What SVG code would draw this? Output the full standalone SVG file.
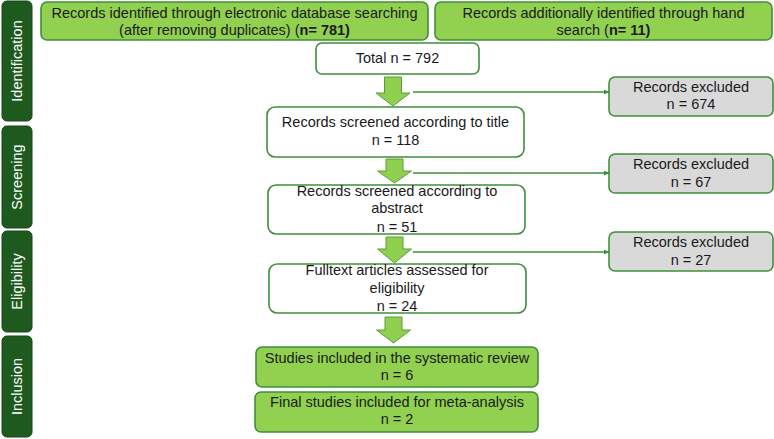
<svg xmlns="http://www.w3.org/2000/svg" width="774" height="439" viewBox="0 0 774 439">
<defs>
<style>
text{font-family:"Liberation Sans",Arial,sans-serif;font-size:14.5px;fill:#1a1a1a;text-anchor:middle}
.phase rect{fill:#1e5a1e;stroke:#16461a;stroke-width:1}
.phase text{fill:#ffffff;font-size:14.5px}
.green{fill:#92d050;stroke:#3f8f3a;stroke-width:1.6}
.white{fill:#ffffff;stroke:#3f8f3a;stroke-width:1.6}
.grey{fill:#d9d9d9;stroke:#3f8f3a;stroke-width:1.6}
.barrow{fill:#8fd14f;stroke:#5a9a3a;stroke-width:1}
.conn{stroke:#3f8f3a;stroke-width:1.3;fill:none;marker-end:url(#ah)}
.b{font-weight:bold}
</style>
<marker id="ah" viewBox="0 0 10 10" refX="10" refY="5" markerWidth="5" markerHeight="5" markerUnits="userSpaceOnUse" orient="auto">
<path d="M0,0 L10,5 L0,10 z" fill="#3f8f3a"/>
</marker>
</defs>
<rect width="774" height="439" fill="#ffffff"/>

<g id="phase-identification" class="phase">
<rect x="2" y="1" width="30" height="120" rx="5"/>
<text transform="translate(22,61) rotate(-90)">Identification</text>
</g>
<g id="phase-screening" class="phase">
<rect x="2" y="126" width="30" height="102" rx="5"/>
<text transform="translate(22,177) rotate(-90)">Screening</text>
</g>
<g id="phase-eligibility" class="phase">
<rect x="2" y="231" width="30" height="101" rx="5"/>
<text transform="translate(22,281.5) rotate(-90)">Eligibility</text>
</g>
<g id="phase-inclusion" class="phase">
<rect x="2" y="336" width="30" height="101" rx="5"/>
<text transform="translate(22,386.5) rotate(-90)">Inclusion</text>
</g>

<g id="db-search">
<rect class="green" x="41" y="2" width="387" height="38" rx="6"/>
<text x="234.5" y="18">Records identified through electronic database searching</text>
<text x="234.5" y="35">(after removing duplicates) (<tspan class="b">n= 781)</tspan></text>
</g>
<g id="hand-search">
<rect class="green" x="435" y="2" width="337" height="38" rx="6"/>
<text x="603.5" y="18">Records additionally identified through hand</text>
<text x="603.5" y="35">search (<tspan class="b">n= 11)</tspan></text>
</g>
<g id="total">
<rect class="white" x="316" y="43" width="163" height="31" rx="6"/>
<text x="397.5" y="63">Total n = 792</text>
</g>
<g id="screened-title">
<rect class="white" x="267" y="107" width="257" height="50" rx="8"/>
<text x="395.5" y="127">Records screened according to title</text>
<text x="395.5" y="145">n = 118</text>
</g>
<g id="screened-abstract">
<rect class="white" x="268" y="185" width="257" height="49" rx="8"/>
<text x="397" y="196">Records screened according to</text>
<text x="397" y="213">abstract</text>
<text x="397" y="232">n = 51</text>
</g>
<g id="fulltext">
<rect class="white" x="269" y="264" width="257" height="49" rx="8"/>
<text x="397" y="275">Fulltext articles assessed for</text>
<text x="397" y="293">eligibility</text>
<text x="397" y="311">n = 24</text>
</g>
<g id="studies-included">
<rect class="green" x="256" y="347" width="282" height="40" rx="6"/>
<text x="397" y="363">Studies included in the systematic review</text>
<text x="397" y="380">n = 6</text>
</g>
<g id="meta-analysis">
<rect class="green" x="255" y="392" width="283" height="40" rx="6"/>
<text x="397" y="407">Final studies included for meta-analysis</text>
<text x="397" y="424">n = 2</text>
</g>
<g id="excluded-1">
<rect class="grey" x="609" y="77" width="164" height="39" rx="6"/>
<text x="691" y="92">Records excluded</text>
<text x="691" y="109">n = 674</text>
</g>
<g id="excluded-2">
<rect class="grey" x="609" y="154" width="164" height="39" rx="6"/>
<text x="691" y="169">Records excluded</text>
<text x="691" y="187">n = 67</text>
</g>
<g id="excluded-3">
<rect class="grey" x="609" y="232" width="164" height="39" rx="6"/>
<text x="691" y="247">Records excluded</text>
<text x="691" y="265">n = 27</text>
</g>

<g id="connectors">
<polygon class="barrow" points="384.5,77 401.5,77 401.5,93 410,93 393,106 376,93 384.5,93"/>
<polygon class="barrow" points="386,159 403,159 403,171 411.5,171 394.5,183 377.5,171 386,171"/>
<polygon class="barrow" points="386,237 403,237 403,249 411.5,249 394.5,263 377.5,249 386,249"/>
<polygon class="barrow" points="385,317 402,317 402,330 410.5,330 393.5,343 376.5,330 385,330"/>
<line class="conn" x1="413" y1="92" x2="609" y2="92"/>
<line class="conn" x1="413" y1="173" x2="609" y2="173"/>
<line class="conn" x1="413" y1="252" x2="609" y2="252"/>
</g>
</svg>
